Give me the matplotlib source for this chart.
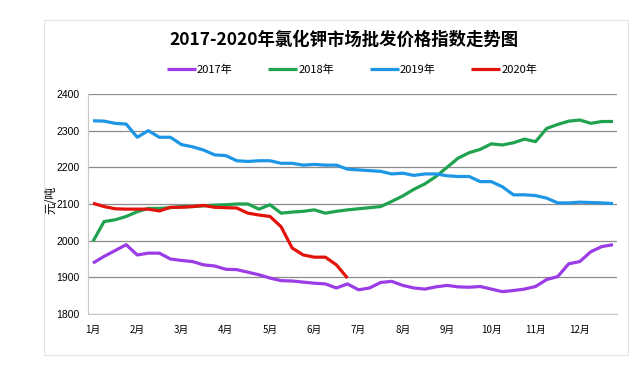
import matplotlib
matplotlib.use("Agg")
import matplotlib.pyplot as plt
from matplotlib.patches import Rectangle

plt.rcParams['font.family'] = ['Noto Sans CJK SC', 'DejaVu Sans']

months = ['1月', '2月', '3月', '4月', '5月', '6月', '7月', '8月', '9月', '10月', '11月', '12月']
series_names = ['2017年', '2018年', '2019年', '2020年']

y2017 = [1939, 1957, 1973, 1989, 1961, 1966, 1966, 1950, 1946, 1943, 1934, 1931,
         1922, 1921, 1914, 1907, 1898, 1891, 1890, 1887, 1884, 1882, 1871, 1882,
         1866, 1871, 1886, 1889, 1878, 1871, 1868, 1874, 1878, 1874, 1873, 1875,
         1868, 1861, 1864, 1868, 1875, 1894, 1902, 1937, 1943, 1970, 1984, 1989]
y2018 = [1998, 2052, 2057, 2066, 2079, 2088, 2088, 2090, 2093, 2093, 2095, 2097,
         2098, 2100, 2100, 2086, 2098, 2075, 2078, 2080, 2084, 2075, 2080, 2084,
         2087, 2090, 2093, 2107, 2122, 2140, 2155, 2175, 2200, 2225, 2240, 2249,
         2264, 2261, 2267, 2277, 2270, 2306, 2317, 2326, 2329, 2320, 2325, 2325]
y2019 = [2327, 2326, 2320, 2318, 2282, 2300, 2282, 2282, 2262, 2256, 2247, 2234,
         2232, 2218, 2216, 2218, 2218, 2211, 2211, 2206, 2208, 2206, 2206, 2195,
         2193, 2191, 2189, 2182, 2184, 2178, 2182, 2182, 2177, 2175, 2175, 2161,
         2161, 2147, 2125, 2125, 2123, 2116, 2103, 2103, 2105, 2104, 2103, 2101]
y2020 = [2102, 2093, 2087, 2086, 2086, 2086, 2081, 2091, 2091, 2093, 2096, 2091,
         2090, 2089, 2075, 2070, 2066, 2038, 1980, 1961, 1955, 1955, 1934, 1898]

colors = ['#9B3CE6', '#1FA34F', '#1E96E6', '#E3120B']
yticks = [1800, 1900, 2000, 2100, 2200, 2300, 2400]

fig = plt.figure(figsize=(6.44, 3.72), dpi=100)
fig.patches.append(Rectangle((44/644, 1-355/372), (628-44)/644, (355-20)/372,
                             transform=fig.transFigure, fill=False,
                             edgecolor='#e4e4e4', linewidth=0.8, zorder=0))

ax = fig.add_axes([88/644, 1-314/372, (617-88)/644, (314-94)/372])

for name, ys, c in zip(series_names, [y2017, y2018, y2019, y2020], colors):
    ax.plot(range(len(ys)), ys, color=c, linewidth=2.3, label=name,
            solid_joinstyle='round', solid_capstyle='butt')

ax.set_ylim(1800, 2400)
ax.set_xlim(-0.45, 47.36)
ax.set_yticks(yticks)
ax.set_yticklabels([str(v) for v in yticks], fontsize=7.5, family=['Liberation Sans'])
ax.set_xticks(range(0, 48, 4))
ax.set_xticklabels(months, fontsize=7)
ax.tick_params(axis='both', length=0)
ax.tick_params(axis='x', pad=8)
ax.tick_params(axis='y', pad=6)
ax.grid(axis='y', color='#8c8c8c', linewidth=0.9)
ax.set_axisbelow(True)
for s in ['top', 'right']:
    ax.spines[s].set_visible(False)
ax.spines['left'].set_color('#c8c8c8')
ax.spines['bottom'].set_color('#c8c8c8')

fig.text(51/644, 1-200/372, '元/吨', rotation=90, ha='center', va='center', fontsize=8.5)

fig.text(344/644, 1-40/372, '2017-2020年氯化钾市场批发价格指数走势图',
         ha='center', va='center', fontsize=12.5, fontweight='bold')

fig.legend(loc='center', bbox_to_anchor=(352/644, 1-70/372), ncol=4, frameon=False,
           fontsize=8, handlelength=2.6, handletextpad=0.1, columnspacing=3.2)

fig.savefig('out.png', dpi=100)
